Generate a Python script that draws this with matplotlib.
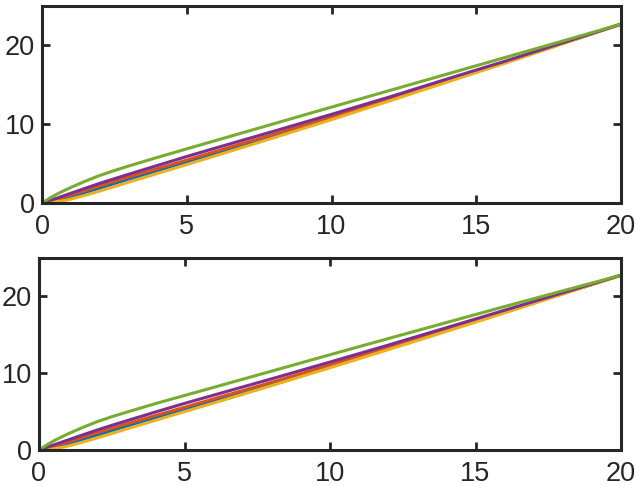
import matplotlib
matplotlib.use("Agg")
import matplotlib.pyplot as plt

# Datos (x comun para todas las curvas)
x = [0, 0.25, 0.5, 0.75, 1, 1.5, 2, 2.5, 3, 4, 5, 6, 8, 10, 12, 14, 16, 18, 20]

# Subplot superior
top_blue   = [0, 0.12, 0.3, 0.52, 0.78, 1.33, 1.9, 2.47, 3.03, 4.12, 5.22, 6.3, 8.5, 10.78, 13.1, 15.45, 17.85, 20.27, 22.7]
top_orange = [0, 0.22, 0.47, 0.74, 1.02, 1.6, 2.18, 2.75, 3.3, 4.38, 5.45, 6.55, 8.72, 10.95, 13.25, 15.55, 17.9, 20.3, 22.7]
top_yellow = [0, 0.05, 0.15, 0.3, 0.5, 0.98, 1.52, 2.08, 2.65, 3.76, 4.88, 6.0, 8.27, 10.58, 12.95, 15.35, 17.75, 20.22, 22.7]
top_purple = [0, 0.3, 0.6, 0.92, 1.24, 1.88, 2.5, 3.08, 3.65, 4.78, 5.9, 6.98, 9.1, 11.25, 13.45, 15.75, 18.0, 20.35, 22.7]
top_green  = [0, 0.58, 1.1, 1.55, 1.98, 2.78, 3.5, 4.12, 4.7, 5.8, 6.87, 7.93, 10.05, 12.17, 14.27, 16.37, 18.47, 20.57, 22.7]

# Subplot inferior
bot_blue   = [0, 0.12, 0.3, 0.53, 0.8, 1.36, 1.95, 2.52, 3.08, 4.18, 5.28, 6.37, 8.56, 10.83, 13.15, 15.5, 17.9, 20.3, 22.7]
bot_orange = [0, 0.23, 0.49, 0.77, 1.06, 1.65, 2.24, 2.82, 3.38, 4.47, 5.55, 6.64, 8.8, 11.05, 13.35, 15.65, 17.97, 20.33, 22.7]
bot_yellow = [0, 0.05, 0.15, 0.31, 0.52, 1.02, 1.57, 2.14, 2.72, 3.85, 4.98, 6.1, 8.37, 10.68, 13.03, 15.4, 17.8, 20.25, 22.7]
bot_purple = [0, 0.32, 0.65, 0.98, 1.3, 1.96, 2.6, 3.2, 3.78, 4.93, 6.05, 7.12, 9.25, 11.42, 13.62, 15.88, 18.15, 20.42, 22.7]
bot_green  = [0, 0.62, 1.17, 1.65, 2.1, 2.93, 3.68, 4.32, 4.9, 6.02, 7.08, 8.13, 10.25, 12.37, 14.47, 16.55, 18.63, 20.67, 22.7]

# Colores por defecto de MATLAB
colors = ['#0072BD', '#D95319', '#EDB120', '#7E2F8E', '#77AC30']

plt.rcParams['font.family'] = ['Liberation Sans', 'DejaVu Sans']
axis_col = '#262626'

fig = plt.figure(figsize=(6.35, 4.86), dpi=100)
ax1 = fig.add_axes([42/635, 1 - 203/486, 579/635, 197/486])
ax2 = fig.add_axes([39/635, 1 - 450/486, 582/635, 192.5/486])

series = [
    (ax1, [top_blue, top_orange, top_yellow, top_purple, top_green]),
    (ax2, [bot_blue, bot_orange, bot_yellow, bot_purple, bot_green]),
]

for ax, ys in series:
    for y, c in zip(ys, colors):
        ax.plot(x, y, color=c, lw=2.2, solid_joinstyle='round')
    ax.set_xlim(0, 20)
    ax.set_ylim(0, 25)
    ax.set_xticks([0, 5, 10, 15, 20])
    ax.set_yticks([0, 10, 20])
    ax.tick_params(direction='in', length=6, width=2, colors=axis_col,
                   labelsize=19.5, top=True, right=True)
    ax.tick_params(axis='x', pad=8)
    ax.tick_params(axis='y', pad=5)
    for s in ax.spines.values():
        s.set_color(axis_col)
        s.set_linewidth(2.2)

fig.savefig('out.png', dpi=100)
